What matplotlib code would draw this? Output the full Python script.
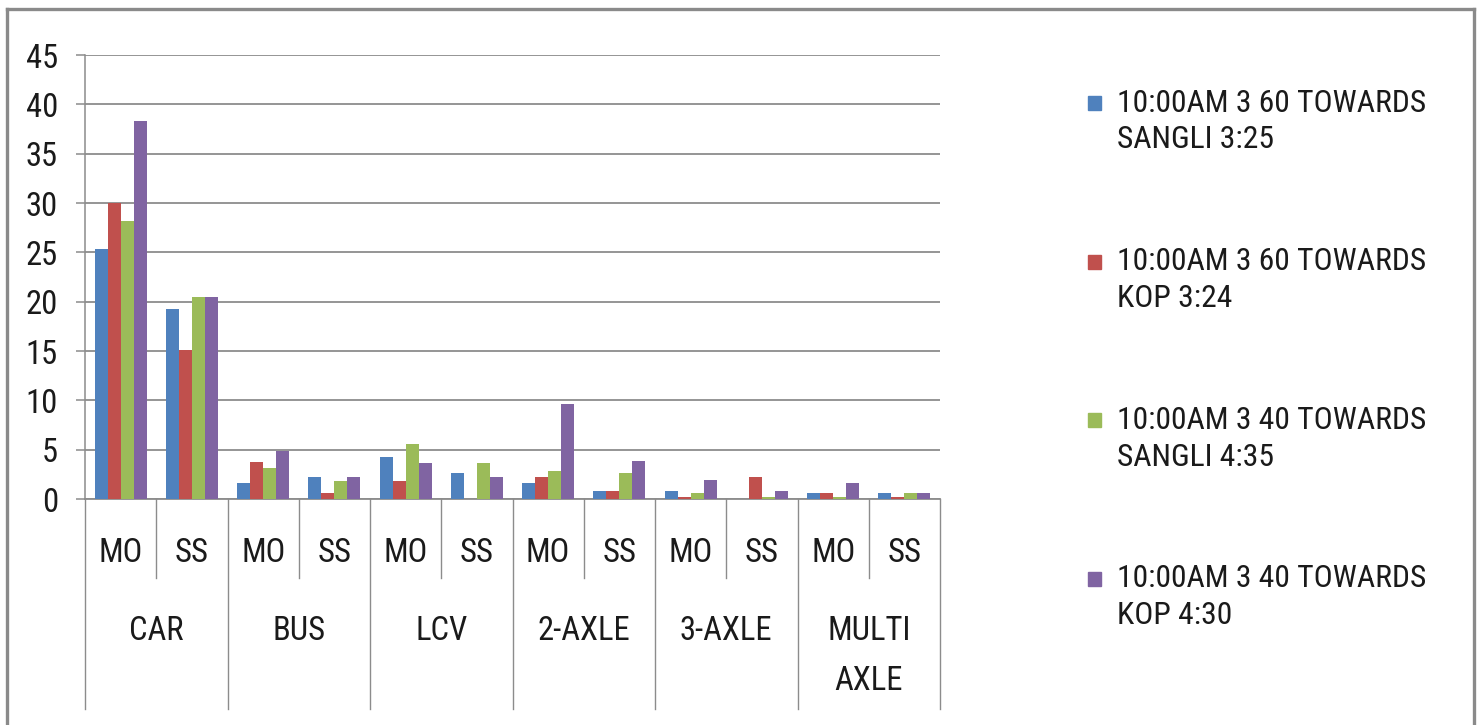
import matplotlib
matplotlib.use("Agg")
import matplotlib.pyplot as plt
from matplotlib import font_manager
from matplotlib.lines import Line2D
from matplotlib.patches import Rectangle
import matplotlib.transforms as mtransforms
import numpy as np

# pick a narrow font if one is installed
font_pick = 'Lato'
for name in ['Liberation Sans Narrow', 'DejaVu Sans Condensed', 'Roboto Condensed',
             'Open Sans Condensed']:
    try:
        font_manager.findfont(name, fallback_to_default=False)
        font_pick = name
        break
    except Exception:
        pass
plt.rcParams['font.family'] = [font_pick, 'DejaVu Sans']
narrow = font_pick != 'Lato'

groups = ['CAR', 'BUS', 'LCV', '2-AXLE', '3-AXLE', 'MULTI\nAXLE']
subcats = ['MO', 'SS']
series_labels = ['10:00AM 3 60 TOWARDS\nSANGLI 3:25',
                 '10:00AM 3 60 TOWARDS\nKOP 3:24',
                 '10:00AM 3 40 TOWARDS\nSANGLI 4:35',
                 '10:00AM 3 40 TOWARDS\nKOP 4:30']
s_blue = [25.3, 19.3, 1.6, 2.2, 4.3, 2.6, 1.6, 0.8, 0.85, 0.0, 0.65, 0.65]
s_red = [30.0, 15.1, 3.75, 0.6, 1.8, 0.0, 2.2, 0.8, 0.25, 2.25, 0.65, 0.2]
s_green = [28.2, 20.5, 3.15, 1.8, 5.6, 3.65, 2.8, 2.6, 0.65, 0.2, 0.2, 0.65]
s_purple = [38.3, 20.5, 4.9, 2.2, 3.65, 2.2, 9.65, 3.85, 1.9, 0.85, 1.65, 0.65]
colors = ['#4F81BD', '#C0504D', '#9BBB59', '#8064A2']

W, H = 1480, 725
fig = plt.figure(figsize=(W / 100, H / 100), dpi=100)
ax = fig.add_axes([85 / W, 1 - 499 / H, (940 - 85) / W, (499 - 55) / H])

txt = '#1a1a1a'
grey = '#8c8c8c'
fs = 23.5 if narrow else 20
fs_leg = 22.8 if narrow else 19

x = np.arange(len(groups) * len(subcats))
w = 0.182
for k, vals in enumerate([s_blue, s_red, s_green, s_purple]):
    ax.bar(x + (k - 1.5) * w, vals, width=w, color=colors[k], zorder=3)

ax.set_xlim(-0.5, len(x) - 0.5)
ax.set_ylim(0, 45)
ax.set_yticks(np.arange(0, 46, 5))
ax.yaxis.grid(True, color=grey, linewidth=1.3)
ax.set_axisbelow(True)
ax.set_xticks([])
for s in ['top', 'right']:
    ax.spines[s].set_visible(False)
ax.spines['left'].set_color(grey)
ax.spines['bottom'].set_color(grey)
ax.spines['left'].set_linewidth(1.1)
ax.spines['bottom'].set_linewidth(1.3)
ax.tick_params(axis='y', length=6.5, width=1.1, color=grey, pad=13,
               labelsize=fs, labelcolor=txt)

# hierarchical category axis
trans = mtransforms.blended_transform_factory(ax.transData, ax.transAxes)
for i, xi in enumerate(x):
    ax.text(xi, -0.122, subcats[i % 2], transform=trans, ha='center',
            va='center', fontsize=fs, color=txt)
for g, name in enumerate(groups):
    left = g * 2 - 0.5
    ax.add_line(Line2D([left, left], [0, -0.473], transform=trans,
                       color=grey, lw=1.0, clip_on=False))
    ax.add_line(Line2D([left + 1, left + 1], [0, -0.178], transform=trans,
                       color=grey, lw=1.0, clip_on=False))
    for j, part in enumerate(name.split('\n')):
        ax.text(left + 1, -0.297 - j * 0.1126, part, transform=trans,
                ha='center', va='center', fontsize=fs, color=txt)
right = len(x) - 0.5
ax.add_line(Line2D([right, right], [0, -0.473], transform=trans,
                   color=grey, lw=1.0, clip_on=False))

# legend
for k, lab in enumerate(series_labels):
    y1 = 103 + k * 158.5
    fig.patches.append(Rectangle((1088 / W, 1 - (y1 + 7) / H), 13 / W, 14 / H,
                                 transform=fig.transFigure, color=colors[k]))
    for j, part in enumerate(lab.split('\n')):
        fig.text(1117 / W, 1 - (y1 + j * 37) / H, part, ha='left', va='center',
                 fontsize=fs_leg, color=txt)

# outer frame
for xs, ys in [([7, 1474], [9, 9]), ([7, 7], [9, 725]), ([1474, 1474], [9, 725])]:
    fig.add_artist(Line2D([v / W for v in xs], [1 - v / H for v in ys],
                          transform=fig.transFigure, color='#8a8a8a', lw=2.4))

fig.savefig('out.png', dpi=100, facecolor='white')
